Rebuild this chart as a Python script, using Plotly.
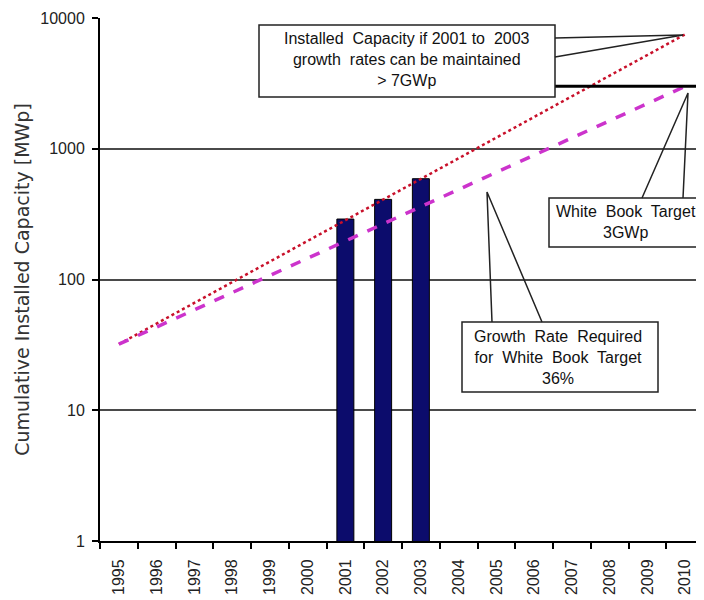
import plotly.graph_objects as go

years = [str(y) for y in range(1995, 2011)]
installed = [None, None, None, None, None, None, 290, 410, 590,
             None, None, None, None, None, None, None]
line_years = ["1995", "2010"]
trend_current = [32, 7500]      # 2001-2003 growth maintained
trend_required = [32, 3000]     # growth required for White Book target
target_mwp = 3000
y_ticks = [1, 10, 100, 1000, 10000]
y_ticktext = ["1", "10", "100", "1000", "10000"]

FONT = "Liberation Sans, Arial, sans-serif"

fig = go.Figure()
fig.add_trace(go.Bar(x=years, y=installed, width=0.45,
                     marker=dict(color="#0c0c6c", line=dict(color="#000000", width=1)),
                     showlegend=False))
fig.add_trace(go.Scatter(x=line_years, y=trend_current, mode="lines",
                         line=dict(color="#c8102a", width=2.5, dash="dot"),
                         showlegend=False))
fig.add_trace(go.Scatter(x=line_years, y=trend_required, mode="lines",
                         line=dict(color="#cc33cc", width=3.5, dash="dash"),
                         showlegend=False))

# the page body adds an 8px offset; design in screen pixels
OFF = 8
W, H = 704 - OFF, 600 - OFF
PL, PR, PT, PB = 100, 704, 18, 541   # plot area in screen pixels
L, R, T, B = PL - OFF, W + OFF - PR, PT - OFF, H + OFF - PB
pw, ph = PR - PL, PB - PT


def px(x):
    return (x - PL) / pw


def py(y):
    return (PB - y) / ph


shapes = []
# target line at 3000 MWp
shapes.append(dict(type="line", xref="x", yref="y", x0=11.55, x1=15.6,
                   y0=target_mwp, y1=target_mwp,
                   line=dict(color="black", width=3)))


def box(x0, y0, x1, y1):
    shapes.append(dict(type="rect", xref="paper", yref="paper",
                       x0=px(x0), x1=px(x1), y0=py(y1), y1=py(y0),
                       fillcolor="white", line=dict(color="#222", width=1.5),
                       layer="above"))


def wedge(p1, tip, p2):
    path = "M {} {} L {} {} L {} {}".format(px(p1[0]), py(p1[1]), px(tip[0]), py(tip[1]),
                                           px(p2[0]), py(p2[1]))
    shapes.append(dict(type="path", xref="paper", yref="paper", path=path,
                       line=dict(color="#222", width=1.5), layer="above"))


box(259, 25, 555, 97)
wedge((555, 38), (683, 35), (555, 57))
box(549, 198, 703, 247)
wedge((642, 198), (688, 93), (683, 198))
box(462, 322, 658, 392)
wedge((492, 322), (487, 192), (542, 322))


def label(x, y, text):
    return dict(x=px(x), y=py(y), xref="paper", yref="paper", showarrow=False,
                xanchor="center", yanchor="middle", align="center", text=text,
                font=dict(family=FONT, size=16, color="#111"))


annotations = [
    label(407, 60, "Installed  Capacity if 2001 to  2003<br>growth  rates can be maintained<br>> 7GWp"),
    label(626, 222, "White  Book  Target<br>3GWp"),
    label(558, 357, "Growth  Rate  Required<br>for  White  Book  Target<br>36%"),
]

fig.update_layout(
    width=W, height=H,
    margin=dict(l=L, r=R, t=T, b=B, pad=0, autoexpand=False),
    paper_bgcolor="white", plot_bgcolor="white",
    shapes=shapes, annotations=annotations,
    xaxis=dict(type="category", categoryorder="array", categoryarray=years,
               range=[-0.5, 15.5], tickangle=-90, ticks="outside", ticklen=6,
               tickson="boundaries", tickcolor="black", tickwidth=1.5,
               ticklabelstandoff=10, automargin=False,
               showline=True, linecolor="black", linewidth=2, showgrid=False,
               tickfont=dict(family=FONT, size=16, color="#222")),
    yaxis=dict(type="log", range=[0, 4], tickvals=y_ticks, ticktext=y_ticktext,
               ticks="outside", ticklen=6, tickcolor="black", tickwidth=1.5,
               ticklabelstandoff=4, automargin=False,
               showline=True, linecolor="black", linewidth=2,
               showgrid=True, gridcolor="#4a4a4a", gridwidth=2,
               tickfont=dict(family=FONT, size=16, color="#222"),
               title=dict(text="Cumulative Installed Capacity [MWp]",
                          font=dict(family="DejaVu Sans, sans-serif", size=19, color="#333"),
                          standoff=6)),
)

fig.write_html("out.html")
